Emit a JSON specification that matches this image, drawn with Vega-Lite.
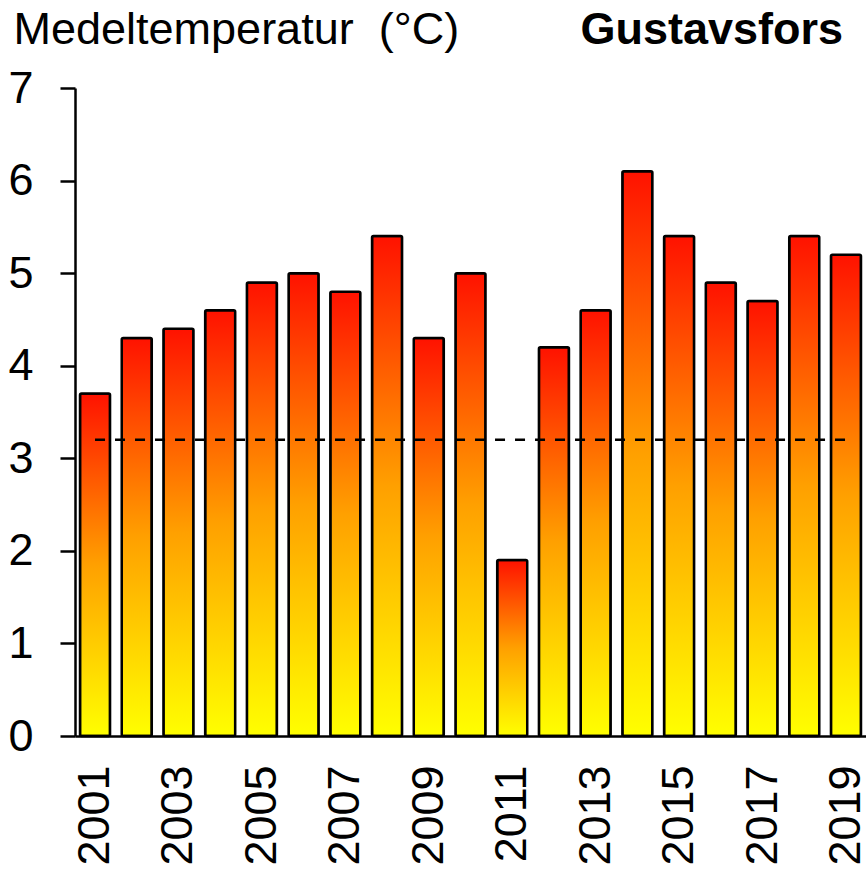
{
  "$schema": "https://vega.github.io/schema/vega-lite/v6.json",
  "width": 791,
  "height": 648,
  "autosize": "none",
  "padding": {"left": 75, "top": 88, "right": 0, "bottom": 134},
  "background": "white",
  "config": {
    "view": {"stroke": null},
    "font": "Liberation Sans"
  },
  "title": {
    "text": "Gustavsfors",
    "anchor": "end",
    "orient": "top",
    "frame": "group",
    "font": "Liberation Sans",
    "fontSize": 45,
    "fontWeight": "bold",
    "color": "black",
    "baseline": "alphabetic",
    "offset": 0,
    "dy": 82,
    "dx": -23
  },
  "datasets": {
    "temps": [
      {"year": "2001", "temp": 3.7},
      {"year": "2002", "temp": 4.3},
      {"year": "2003", "temp": 4.4},
      {"year": "2004", "temp": 4.6},
      {"year": "2005", "temp": 4.9},
      {"year": "2006", "temp": 5.0},
      {"year": "2007", "temp": 4.8},
      {"year": "2008", "temp": 5.4},
      {"year": "2009", "temp": 4.3},
      {"year": "2010", "temp": 5.0},
      {"year": "2011", "temp": 1.9},
      {"year": "2012", "temp": 4.2},
      {"year": "2013", "temp": 4.6},
      {"year": "2014", "temp": 6.1},
      {"year": "2015", "temp": 5.4},
      {"year": "2016", "temp": 4.9},
      {"year": "2017", "temp": 4.7},
      {"year": "2018", "temp": 5.4},
      {"year": "2019", "temp": 5.2}
    ],
    "ref": [
      {"from": "2001", "to": "2019", "level": 3.2}
    ]
  },
  "layer": [
    {
      "data": {"name": "temps"},
      "mark": {
        "type": "bar",
        "stroke": "black",
        "strokeWidth": 2.5,
        "cornerRadius": 1.5,
        "fill": {
          "gradient": "linear",
          "x1": 0, "y1": 0, "x2": 0, "y2": 1,
          "stops": [
            {"offset": 0, "color": "#ff1200"},
            {"offset": 0.5, "color": "#ffa000"},
            {"offset": 1, "color": "#ffff00"}
          ]
        }
      },
      "encoding": {
        "x": {
          "field": "year",
          "type": "ordinal",
          "scale": {"paddingInner": 0.28, "paddingOuter": 0.12},
          "axis": {
            "title": null,
            "values": ["2001", "2003", "2005", "2007", "2009", "2011", "2013", "2015", "2017", "2019"],
            "labelAngle": -90,
            "labelAlign": "right",
            "labelBaseline": "middle",
            "labelFontSize": 45,
            "labelFont": "Liberation Sans",
            "labelColor": "black",
            "labelPadding": 29,
            "ticks": false,
            "domainColor": "black",
            "domainWidth": 2.5,
            "grid": false
          }
        },
        "y": {
          "field": "temp",
          "type": "quantitative",
          "scale": {"domain": [0, 7], "nice": false},
          "axis": {
            "title": "Medeltemperatur\u00a0 (°C)",
            "titleAngle": 0,
            "titleAlign": "left",
            "titleBaseline": "alphabetic",
            "titleX": -62,
            "titleY": -45,
            "titleFontSize": 45,
            "titleFontWeight": "normal",
            "titleFont": "Liberation Sans",
            "titleColor": "black",
            "values": [0, 1, 2, 3, 4, 5, 6, 7],
            "format": "d",
            "labelFontSize": 45,
            "labelFont": "Liberation Sans",
            "labelColor": "black",
            "labelPadding": 27,
            "labelBaseline": "middle",
            "tickSize": 15,
            "tickWidth": 2.5,
            "tickColor": "black",
            "domainColor": "black",
            "domainWidth": 2.5,
            "grid": false
          }
        }
      }
    },
    {
      "data": {"name": "ref"},
      "mark": {"type": "rule", "stroke": "black", "strokeWidth": 2.5, "strokeDash": [10, 10]},
      "encoding": {
        "x": {"field": "from", "type": "ordinal"},
        "x2": {"field": "to"},
        "y": {"field": "level", "type": "quantitative"}
      }
    }
  ]
}
